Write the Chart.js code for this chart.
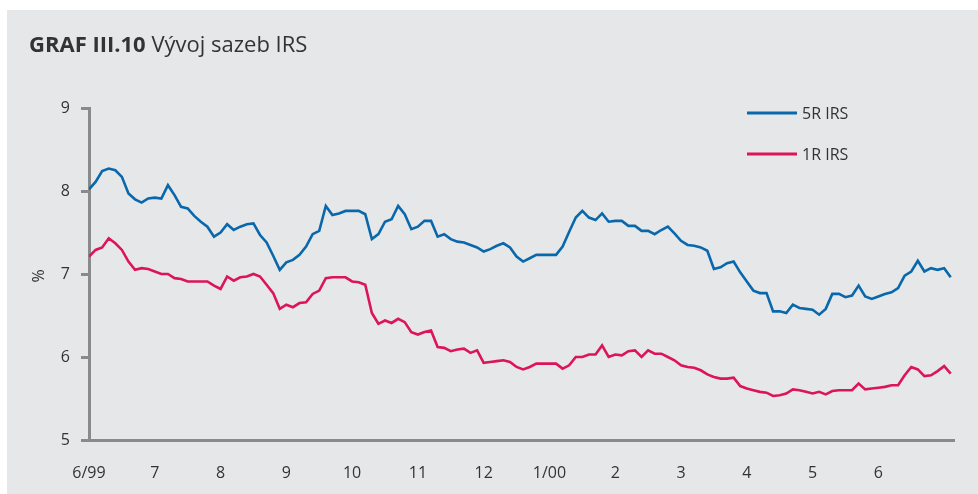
<!DOCTYPE html>
<html>
<head>
<meta charset="utf-8">
<title>GRAF III.10 Vývoj sazeb IRS</title>
<script src="https://cdn.jsdelivr.net/npm/chart.js@4.4.1/dist/chart.umd.min.js"></script>
<style>
  html, body { margin: 0; padding: 0; background: #ffffff; }
  #irsChart { display: block; }
</style>
</head>
<body>
<canvas id="irsChart" width="978" height="494"></canvas>
<script>
// ── DATA ───────────────────────────────────────────
// month tick labels (6/99 … 6/00), one per month
const monthLabels = ['6/99', '7', '8', '9', '10', '11', '12', '1/00', '2', '3', '4', '5', '6'];
const yTicks = [5, 6, 7, 8, 9];
const seriesNames = ['5R IRS', '1R IRS'];

// one reading every 0.1 month, starting at the beginning of 6/99
const sampleStep = 0.1;

// 5-year IRS rate (%)
const irs5y = [
  8.02, 8.11, 8.24, 8.27, 8.25, 8.17, 7.97, 7.90, 7.86, 7.91,
  7.92, 7.91, 8.07, 7.95, 7.81, 7.79, 7.70, 7.63, 7.57, 7.45,
  7.50, 7.60, 7.53, 7.57, 7.60, 7.61, 7.47, 7.38, 7.22, 7.05,
  7.14, 7.17, 7.23, 7.33, 7.48, 7.52, 7.82, 7.71, 7.73, 7.76,
  7.76, 7.76, 7.72, 7.42, 7.48, 7.63, 7.66, 7.82, 7.72, 7.54,
  7.57, 7.64, 7.64, 7.45, 7.48, 7.42, 7.39, 7.38, 7.35, 7.32,
  7.27, 7.30, 7.34, 7.37, 7.32, 7.21, 7.15, 7.19, 7.23, 7.23,
  7.23, 7.23, 7.33, 7.51, 7.68, 7.76, 7.68, 7.65, 7.73, 7.63,
  7.64, 7.64, 7.58, 7.58, 7.52, 7.52, 7.48, 7.53, 7.57, 7.49,
  7.40, 7.35, 7.34, 7.32, 7.28, 7.06, 7.08, 7.13, 7.15, 7.02,
  6.91, 6.80, 6.77, 6.77, 6.55, 6.55, 6.53, 6.63, 6.59, 6.58,
  6.57, 6.51, 6.58, 6.76, 6.76, 6.72, 6.74, 6.86, 6.73, 6.70,
  6.73, 6.76, 6.78, 6.83, 6.98, 7.03, 7.16, 7.03, 7.07, 7.05,
  7.07, 6.96
];

// 1-year IRS rate (%)
const irs1y = [
  7.21, 7.29, 7.32, 7.43, 7.37, 7.29, 7.15, 7.05, 7.07, 7.06,
  7.03, 7.00, 7.00, 6.95, 6.94, 6.91, 6.91, 6.91, 6.91, 6.86,
  6.82, 6.97, 6.92, 6.96, 6.97, 7.00, 6.97, 6.87, 6.77, 6.58,
  6.63, 6.60, 6.65, 6.66, 6.76, 6.80, 6.95, 6.96, 6.96, 6.96,
  6.91, 6.90, 6.87, 6.53, 6.40, 6.44, 6.41, 6.46, 6.42, 6.30,
  6.27, 6.30, 6.32, 6.12, 6.11, 6.07, 6.09, 6.10, 6.05, 6.08,
  5.93, 5.94, 5.95, 5.96, 5.94, 5.88, 5.85, 5.88, 5.92, 5.92,
  5.92, 5.92, 5.86, 5.90, 6.00, 6.00, 6.03, 6.03, 6.14, 6.00,
  6.03, 6.02, 6.07, 6.08, 6.00, 6.08, 6.04, 6.04, 6.00, 5.96,
  5.90, 5.88, 5.87, 5.84, 5.79, 5.76, 5.74, 5.74, 5.75, 5.65,
  5.62, 5.60, 5.58, 5.57, 5.53, 5.54, 5.56, 5.61, 5.60, 5.58,
  5.56, 5.58, 5.55, 5.59, 5.60, 5.60, 5.60, 5.68, 5.61, 5.62,
  5.63, 5.64, 5.66, 5.66, 5.78, 5.88, 5.85, 5.77, 5.78, 5.83,
  5.89, 5.80
];

// ── STYLE ──────────────────────────────────────────
const BLUE = '#0868ab';
const RED = '#dc1458';
const AXIS = '#8a8a8a';
const TEXT = '#333333';
const PANEL = '#e6e7e9';
const FONT = "'Open Sans', 'Noto Sans', sans-serif";

// turn a series into {x, y} points on the month axis
function toPoints(values) {
  return values.map((v, i) => ({ x: i * sampleStep, y: v }));
}

// ── BACKGROUND, TITLE, % LABEL AND LEGEND ──────────
const decorPlugin = {
  id: 'decor',
  beforeDraw(chart) {
    const ctx = chart.ctx;
    ctx.save();
    ctx.fillStyle = '#ffffff';
    ctx.fillRect(0, 0, chart.width, chart.height);
    ctx.fillStyle = PANEL;
    ctx.fillRect(7, 10, chart.width - 7, chart.height - 10);
    ctx.restore();
  },
  afterDraw(chart) {
    const ctx = chart.ctx;
    ctx.save();
    ctx.fillStyle = TEXT;
    ctx.textBaseline = 'alphabetic';

    // title: bold number + regular text
    ctx.font = 'bold 22px ' + FONT;
    ctx.fillText('GRAF III.10', 29, 52);
    const w = ctx.measureText('GRAF III.10 ').width;
    ctx.font = '22px ' + FONT;
    ctx.fillText('Vývoj sazeb IRS', 29 + w, 52);

    // rotated % label
    ctx.save();
    ctx.translate(39, 276);
    ctx.rotate(-Math.PI / 2);
    ctx.font = '16px ' + FONT;
    ctx.textAlign = 'center';
    ctx.textBaseline = 'middle';
    ctx.fillText('%', 0, 0);
    ctx.restore();

    // legend: short line + name
    const rows = [113, 154];
    chart.data.datasets.forEach((ds, i) => {
      ctx.strokeStyle = ds.borderColor;
      ctx.lineWidth = 3;
      ctx.beginPath();
      ctx.moveTo(747, rows[i]);
      ctx.lineTo(797, rows[i]);
      ctx.stroke();
      ctx.font = '16px ' + FONT;
      ctx.textBaseline = 'middle';
      ctx.textAlign = 'left';
      ctx.fillStyle = TEXT;
      ctx.fillText(ds.label, 802, rows[i] + 1);
    });
    ctx.restore();
  }
};

// ── CHART ──────────────────────────────────────────
new Chart(document.getElementById('irsChart'), {
  type: 'line',
  data: {
    datasets: [
      {
        label: seriesNames[0],
        data: toPoints(irs5y),
        borderColor: BLUE,
        borderWidth: 2.6,
        pointRadius: 0,
        tension: 0
      },
      {
        label: seriesNames[1],
        data: toPoints(irs1y),
        borderColor: RED,
        borderWidth: 2.6,
        pointRadius: 0,
        tension: 0
      }
    ]
  },
  options: {
    responsive: false,
    animation: false,
    layout: { padding: { top: 108, right: 17, bottom: 0, left: 0 } },
    plugins: {
      legend: { display: false },
      tooltip: { enabled: false }
    },
    scales: {
      x: {
        type: 'linear',
        min: 0,
        max: 13.15,
        afterFit(scale) { scale.height = 54; },
        border: { display: true, color: AXIS, width: 3 },
        grid: { drawOnChartArea: false, drawTicks: false },
        ticks: {
          stepSize: 1,
          autoSkip: false,
          maxRotation: 0,
          padding: 24,
          color: TEXT,
          font: { family: FONT, size: 16 },
          callback: (v) => monthLabels[v] ?? ''
        }
      },
      y: {
        min: yTicks[0],
        max: yTicks[yTicks.length - 1],
        afterFit(scale) { scale.width = 89; },
        border: { display: true, color: AXIS, width: 3 },
        grid: { drawOnChartArea: false, drawTicks: true, tickLength: 8, color: AXIS, lineWidth: 3 },
        ticks: {
          stepSize: 1,
          padding: 11,
          color: TEXT,
          font: { family: FONT, size: 16 }
        }
      }
    }
  },
  plugins: [decorPlugin]
});
</script>
</body>
</html>
